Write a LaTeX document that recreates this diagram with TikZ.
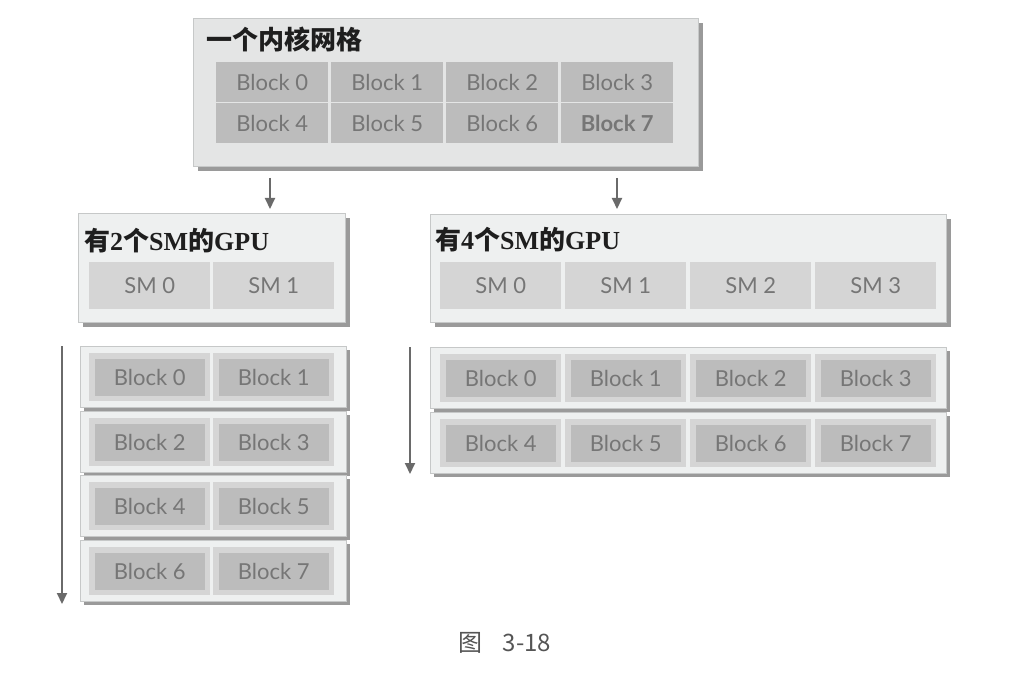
\documentclass[tikz,border=0pt]{standalone}
\usepackage{fontspec}
\usetikzlibrary{arrows.meta,shadows}
\newfontfamily\blkfont{Lato}
\newfontfamily\cjkfont{Noto Sans CJK SC}
\newfontfamily\lserif{Liberation Serif}
\definecolor{topfill}{HTML}{E4E5E5}
\definecolor{panelfill}{HTML}{EEF0F0}
\definecolor{panelline}{HTML}{C6C8C8}
\definecolor{shadowgray}{HTML}{9A9A9A}
\definecolor{darkcell}{HTML}{BCBCBC}
\definecolor{midcell}{HTML}{D5D5D5}
\definecolor{blocktext}{HTML}{767676}
\definecolor{arrowgray}{HTML}{6A6A6A}
\definecolor{titletext}{HTML}{1E1E1E}
\definecolor{captiontext}{HTML}{555555}
\newcommand\mixtitle[1]{{\cjkfont\bfseries 有}{\lserif\bfseries #1}{\cjkfont\bfseries 个}{\lserif\bfseries SM}{\cjkfont\bfseries 的}{\lserif\bfseries GPU}}
\tikzset{
  panel/.style={draw=panelline, line width=0.8pt, fill=#1, anchor=north west, inner sep=0pt,
    drop shadow={shadow xshift=5pt, shadow yshift=-5pt, fill=shadowgray, opacity=1}},
  rowframe/.style={draw=panelline, line width=0.8pt, fill=panelfill, anchor=north west, inner sep=0pt,
    minimum height=61pt,
    drop shadow={shadow xshift=4pt, shadow yshift=-4pt, fill=shadowgray, opacity=1}},
  titletxt/.style={anchor=west, inner sep=0pt, text=titletext, font=\fontsize{26}{30}\selectfont},
  tblock/.style={fill=darkcell, anchor=north west, inner sep=0pt, minimum width=112pt, minimum height=40pt,
    text=blocktext, font=\blkfont\fontsize{22}{26}\selectfont},
  smcell/.style={fill=midcell, anchor=north west, inner sep=0pt, minimum width=121pt, minimum height=47pt,
    text=blocktext, font=\blkfont\fontsize{22}{26}\selectfont},
  midcellbox/.style={fill=midcell, anchor=north west, inner sep=0pt, minimum width=121pt, minimum height=48pt},
  innerblock/.style={fill=darkcell, anchor=center, inner sep=0pt, minimum width=110pt, minimum height=37pt,
    text=blocktext, font=\blkfont\fontsize{22}{26}\selectfont},
  arr/.style={draw=arrowgray, line width=2pt, -{Triangle[length=11pt,width=10pt]}},
}
\begin{document}
\begin{tikzpicture}[x=1pt,y=-1pt]
\fill[white] (0,0) rectangle (1033,676);
\useasboundingbox (0,0) rectangle (1033,676);

% ---- kernel grid ----
\node[panel=topfill, minimum width=505pt, minimum height=148pt] (grid) at (193,18) {};
\node[titletxt] (gridtitle) at (206,39) {\cjkfont\bfseries 一个内核网格};
\foreach \i in {0,...,3} {
  \node[tblock] (t\i) at (216+\i*115,62) {Block \i};
}
\foreach \i in {0,...,2} {
  \pgfmathtruncatemacro\j{\i+4}
  \node[tblock] (t\j) at (216+\i*115,103) {Block \j};
}
\node[tblock, font=\blkfont\bfseries\fontsize{22}{26}\selectfont] (t7) at (561,103) {Block 7};

% ---- arrows from grid ----
\coordinate (a1s) at (270,178);
\coordinate (a1e) at (270,209);
\coordinate (a2s) at (617,178);
\coordinate (a2e) at (617,209);
\draw[arr] (a1s) -- (a1e);
\draw[arr] (a2s) -- (a2e);

% ---- GPU with 2 SMs ----
\node[panel=panelfill, minimum width=267pt, minimum height=109pt] (gpuA) at (78,213) {};
\node[titletxt] (gpuAtitle) at (84,241) {\mixtitle{2}};
\foreach \i in {0,1} {
  \node[smcell] (smA\i) at (89+\i*124,262) {SM \i};
}

% ---- GPU with 4 SMs ----
\node[panel=panelfill, minimum width=516pt, minimum height=108pt] (gpuB) at (430,214) {};
\node[titletxt] (gpuBtitle) at (435,240) {\mixtitle{4}};
\foreach \i in {0,...,3} {
  \node[smcell] (smB\i) at (440+\i*125,262) {SM \i};
}

% ---- schedule on 2 SMs ----
\foreach \r/\y in {0/346,1/411,2/475,3/540} {
  \node[rowframe, minimum width=266pt] (rowA\r) at (80,\y) {};
  \foreach \c in {0,1} {
    \pgfmathtruncatemacro\k{2*\r+\c}
    \node[midcellbox] (cellA\k) at (89+\c*124,\y+7) {};
    \node[innerblock] (blkA\k) at (cellA\k.center) {Block \k};
  }
}
\coordinate (la-s) at (62,346);
\coordinate (la-e) at (62,604);
\draw[arr] (la-s) -- (la-e);

% ---- schedule on 4 SMs ----
\foreach \r/\y in {0/347,1/412} {
  \node[rowframe, minimum width=516pt] (rowB\r) at (430,\y) {};
  \foreach \c in {0,...,3} {
    \pgfmathtruncatemacro\k{4*\r+\c}
    \node[midcellbox] (cellB\k) at (440+\c*125,\y+7) {};
    \node[innerblock] (blkB\k) at (cellB\k.center) {Block \k};
  }
}
\coordinate (lb-s) at (410,347);
\coordinate (lb-e) at (410,474);
\draw[arr] (lb-s) -- (lb-e);

% ---- caption ----
\node[anchor=center, inner sep=0pt, text=captiontext, font=\cjkfont\fontsize{24}{28}\selectfont] (caption) at (505,643) {图\hspace{20pt}3-18};
\end{tikzpicture}
\end{document}
